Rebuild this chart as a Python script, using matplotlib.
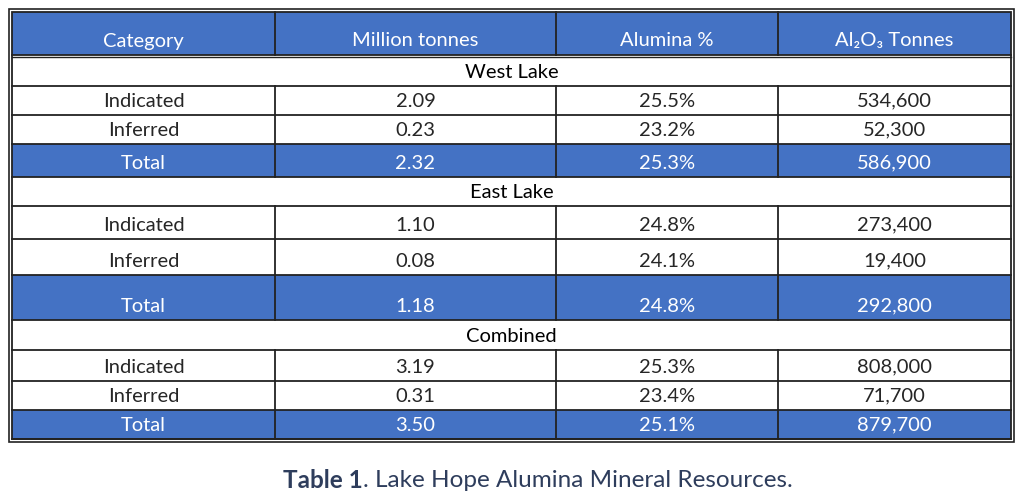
import matplotlib.pyplot as plt
from matplotlib.patches import Rectangle

# Table contents
headers = ['Category', 'Million tonnes', 'Alumina %', 'Al₂O₃ Tonnes']
sections = ['West Lake', 'East Lake', 'Combined']
categories = ['Indicated', 'Inferred', 'Total']
million_tonnes = [[2.09, 0.23, 2.32], [1.10, 0.08, 1.18], [3.19, 0.31, 3.50]]
alumina_pct = [[25.5, 23.2, 25.3], [24.8, 24.1, 24.8], [25.3, 23.4, 25.1]]
al2o3_tonnes = [[534600, 52300, 586900], [273400, 19400, 292800], [808000, 71700, 879700]]
caption_bold = 'Table 1'
caption_rest = '. Lake Hope Alumina Mineral Resources.'

# Layout (pixel space)
row_edges = [12, 55, 86, 115, 144, 177, 206, 239, 275, 320, 350, 381, 410, 439]
col_edges = [12, 275, 556, 778, 1011]
blue = '#4472C4'
text_dark = '#262626'
fonts = ['Lato', 'DejaVu Sans']
fs = 14.5

fig = plt.figure(figsize=(10.24, 4.94), dpi=100)
ax = fig.add_axes([0, 0, 1, 1])
ax.set_xlim(0, 1024)
ax.set_ylim(494, 0)
ax.axis('off')


def draw_row(i, cells, fill, color):
    top, bot = row_edges[i], row_edges[i + 1]
    if fill:
        ax.add_patch(Rectangle((col_edges[0], top), col_edges[-1] - col_edges[0], bot - top,
                               facecolor=fill, edgecolor='none', zorder=1))
    ax.plot([col_edges[0], col_edges[-1]], [bot, bot], color='#222222', lw=1.3, zorder=3)
    if len(cells) == 1:
        ax.text((col_edges[0] + col_edges[-1]) / 2, bot - 14, cells[0], ha='center',
                va='center', fontsize=fs, color=color, family=fonts, zorder=4)
        return
    for j, txt in enumerate(cells):
        x0, x1 = col_edges[j], col_edges[j + 1]
        ax.text((x0 + x1) / 2, bot - 14, txt, ha='center', va='center',
                fontsize=fs, color=color, family=fonts, zorder=4)
        if j > 0:
            ax.plot([x0, x0], [top, bot], color='#222222', lw=1.3, zorder=3)


draw_row(0, headers, blue, 'white')
r = 1
for s, name in enumerate(sections):
    draw_row(r, [name], None, 'black')
    r += 1
    for k, cat in enumerate(categories):
        cells = [cat, f'{million_tonnes[s][k]:.2f}', f'{alumina_pct[s][k]:.1f}%',
                 f'{al2o3_tonnes[s][k]:,}']
        is_total = cat == 'Total'
        draw_row(r, cells, blue if is_total else None, 'white' if is_total else text_dark)
        r += 1

# double header separator
ax.plot([col_edges[0], col_edges[-1]], [row_edges[1] + 2, row_edges[1] + 2],
        color='#222222', lw=1.0, zorder=3)

# double outer border
x0, x1, y0, y1 = col_edges[0], col_edges[-1], row_edges[0], row_edges[-1]
for off, lw in [(0, 1.3), (-3, 1.2)]:
    ax.add_patch(Rectangle((x0 + off, y0 + off), (x1 - x0) - 2 * off, (y1 - y0) - 2 * off,
                           fill=False, edgecolor='#222222', lw=lw, zorder=5))

# caption: bold lead-in followed by regular text
cap_fs = 17.5
t1 = ax.text(283, 480, caption_bold, ha='left', va='center', fontsize=cap_fs,
             fontweight='bold', color='#2E3D5C', family=fonts)
fig.canvas.draw()
bb = t1.get_window_extent()
xe = ax.transData.inverted().transform((bb.x1, 0))[0]
ax.text(xe, 480, caption_rest, ha='left', va='center', fontsize=cap_fs,
        color='#2E3D5C', family=fonts)

fig.savefig('out.png', dpi=100)
